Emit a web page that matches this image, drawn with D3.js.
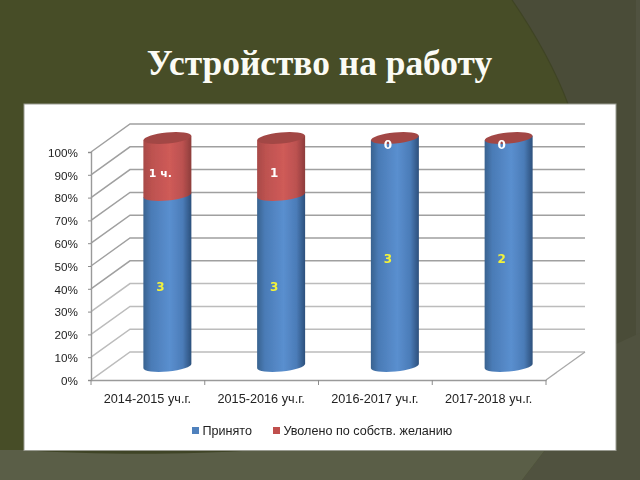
<!DOCTYPE html>
<html>
<head>
<meta charset="utf-8">
<script src="https://cdn.jsdelivr.net/npm/d3@7"></script>
<style>
  html, body { margin: 0; padding: 0; background: #474d27; }
  svg { display: block; }
</style>
</head>
<body>
<div id="chart"></div>
<script>
// --- Data ---
const categories = ['2014-2015 уч.г.', '2015-2016 уч.г.', '2016-2017 уч.г.', '2017-2018 уч.г.'];
const hired = [3, 3, 3, 2];
const quit = [1, 1, 0, 0];
const hiredLabels = ['3', '3', '3', '2'];
const quitLabels = ['1 ч.', '1', '0', '0'];
const seriesNames = ['Принято', 'Уволено по собств. желанию'];
const percentTicks = [0, 0.1, 0.2, 0.3, 0.4, 0.5, 0.6, 0.7, 0.8, 0.9, 1];

const width = 640;
const height = 480;

const svg = d3.select('#chart')
  .append('svg')
  .attr('width', width)
  .attr('height', height)
  .attr('viewBox', `0 0 ${width} ${height}`)
  .attr('role', 'img')
  .attr('aria-label', 'Устройство на работу');

const defs = svg.append('defs');

function cylinderGradient(id, stops) {
  const g = defs.append('linearGradient').attr('id', id);
  stops.forEach(s => g.append('stop').attr('offset', s[0]).attr('stop-color', s[1]));
}
cylinderGradient('blue-body', [['0%', '#38628f'], ['16%', '#4a7bb6'], ['55%', '#5a8fcf'], ['82%', '#4b7cb8'], ['100%', '#2c507c']]);
cylinderGradient('red-body', [['0%', '#a84a48'], ['18%', '#bd5250'], ['55%', '#cf5b58'], ['82%', '#bb5150'], ['100%', '#8d3d3b']]);
defs.append('filter').attr('id', 'soft')
  .append('feGaussianBlur').attr('stdDeviation', 0.45);

// --- Slide background ---
svg.append('rect').attr('width', width).attr('height', height).attr('fill', '#474d27');
// top right corner shape with its darker edge
svg.append('path').attr('fill', '#4a4c38')
  .attr('d', 'M512,0 C536,35 556,72 568,104 L640,104 L640,0 Z');
svg.append('path').attr('fill', 'none')
  .attr('stroke', '#3f4424').attr('stroke-width', 1.2)
  .attr('d', 'M512,0 C536,35 556,72 568,104');
svg.append('rect').attr('x', 616).attr('y', 104).attr('width', 24).attr('height', 240).attr('fill', '#4a4c38');
svg.append('rect').attr('x', 636).attr('y', 0).attr('width', 4).attr('height', 340).attr('fill', '#505240');
// lower right
svg.append('path').attr('fill', '#50523f')
  .attr('d', 'M616,344 L640,333 L640,480 L522,480 L545,450 L616,450 Z');
// bottom strip
svg.append('path').attr('fill', '#5a5e47')
  .attr('d', 'M0,450 L545,450 L522,480 L0,480 Z');
svg.append('path').attr('fill', '#3f4426')
  .attr('d', 'M24,450 C90,455 190,455 255,450 Z');

// --- White panel ---
svg.append('rect')
  .attr('x', 24).attr('y', 104).attr('width', 592).attr('height', 346.5)
  .attr('fill', '#ffffff').attr('stroke', '#9a9c92').attr('stroke-width', 1);

// --- Scales ---
const x = d3.scaleBand().domain(categories).range([91, 546]);
const y = d3.scaleLinear().domain([0, 1]).range([380, 152]);
const depthX = 39;
const depthY = -28;

const plot = svg.append('g').attr('filter', 'url(#soft)');

// Gridlines: side wall then back wall
percentTicks.forEach(t => {
  plot.append('path')
    .attr('d', `M${x.range()[0]},${y(t)} L${x.range()[0] + depthX},${y(t) + depthY} L${x.range()[1] + depthX},${y(t) + depthY}`)
    .attr('fill', 'none')
    .attr('stroke', t >= 0.4 ? '#a0a0a0' : '#bcbcbc')
    .attr('stroke-width', 1.5);
});

// Floor, front edge of the floor
plot.append('path')
  .attr('d', `M${x.range()[1]},${y(0)} L${x.range()[1] + depthX},${y(0) + depthY}`)
  .attr('fill', 'none').attr('stroke', '#a8a8a8').attr('stroke-width', 1.3);

// Axes
const axisFont = '"Liberation Sans", Arial, sans-serif';
const yAxis = d3.axisLeft(y).tickValues(percentTicks).tickFormat(d3.format('.0%')).tickSize(3).tickPadding(10);
const yAxisG = plot.append('g').attr('transform', `translate(${x.range()[0]},0)`).call(yAxis);
const xAxis = d3.axisBottom(x).tickSize(0).tickPadding(12);
const xAxisG = plot.append('g').attr('transform', `translate(0,${y(0)})`).call(xAxis);
const boundaries = [...categories.map(c => x(c)), x.range()[1]];
xAxisG.selectAll('.edge-tick').data(boundaries).enter().append('line')
  .attr('class', 'edge-tick')
  .attr('x1', d => d).attr('x2', d => d).attr('y1', 0).attr('y2', 5)
  .attr('stroke', '#8c8c8c').attr('stroke-width', 1);

[yAxisG, xAxisG].forEach(g => {
  g.selectAll('.domain').attr('stroke', '#9a9a9a').attr('stroke-width', 1.4);
  g.selectAll('.tick line').attr('stroke', '#8c8c8c');
  g.selectAll('text').attr('font-family', axisFont).attr('fill', '#222');
});
yAxisG.selectAll('text').attr('font-size', 11.7).attr('dy', '0.36em');
xAxisG.selectAll('text').attr('font-size', 12.7).attr('dy', '0.85em').attr('dx', -0.5);

// --- Cylinders ---
const barWidth = 48;
const capRy = 5.6;
const tilt = -5.5;

function barX(cat) {
  return x(cat) + x.bandwidth() / 2 + depthX / 2 - barWidth / 2;
}
function barY(v) {
  return y(v) + depthY / 2;
}
// slope of the tilted ellipse rim across the bar
const slope = Math.tan(tilt * Math.PI / 180) * barWidth / 2;

function segmentPath(x0, yBottom, yTop) {
  const rx = barWidth / 2;
  const x1 = x0 + barWidth;
  return `M${x0},${yTop - slope}`
    + ` L${x1},${yTop + slope}`
    + ` L${x1},${yBottom + slope}`
    + ` A${rx},${capRy} ${tilt} 0 1 ${x0},${yBottom - slope} Z`;
}

const rows = categories.map((cat, i) => {
  const total = hired[i] + quit[i];
  return { cat, i, share: hired[i] / total };
});

const bars = plot.selectAll('.bar').data(rows).enter().append('g').attr('class', 'bar');

bars.append('path')
  .attr('fill', 'url(#blue-body)')
  .attr('d', d => segmentPath(barX(d.cat), barY(0), barY(d.share)));

bars.filter(d => d.share < 1).append('path')
  .attr('fill', 'url(#red-body)')
  .attr('d', d => segmentPath(barX(d.cat), barY(d.share), barY(1)));

bars.append('ellipse')
  .attr('cx', d => barX(d.cat) + barWidth / 2)
  .attr('cy', barY(1))
  .attr('rx', barWidth / 2)
  .attr('ry', capRy)
  .attr('transform', d => `rotate(${tilt} ${barX(d.cat) + barWidth / 2} ${barY(1)})`)
  .attr('fill', '#a24644');

// --- Data labels ---
const labelFont = '"DejaVu Sans", "Open Sans", sans-serif';
bars.append('text')
  .attr('x', d => x(d.cat) + x.bandwidth() / 2 + depthX / 2 - 7)
  .attr('y', d => y(d.share / 2) + depthY / 2 + 10.5)
  .attr('text-anchor', 'middle')
  .attr('font-family', labelFont).attr('font-weight', 700).attr('font-size', 12)
  .attr('fill', '#f2f23a')
  .text(d => hiredLabels[d.i]);

bars.append('text')
  .attr('x', d => x(d.cat) + x.bandwidth() / 2 + depthX / 2 - 7)
  .attr('y', d => y((1 + d.share) / 2) + depthY / 2 + 10.5)
  .attr('text-anchor', 'middle')
  .attr('font-family', labelFont).attr('font-weight', 700).attr('font-size', d => d.i === 0 ? 11 : 12)
  .attr('fill', '#ffffff')
  .text(d => quitLabels[d.i]);

// --- Legend ---
const legendColors = ['#4f81bd', '#c0504d'];
const legendX = [192, 273];
const legend = plot.selectAll('.legend').data(seriesNames).enter().append('g')
  .attr('class', 'legend')
  .attr('transform', (d, i) => `translate(${legendX[i]},427)`);
legend.append('rect').attr('width', 7).attr('height', 7).attr('fill', (d, i) => legendColors[i]);
legend.append('text')
  .attr('x', 10.5).attr('y', 7.5)
  .attr('font-family', axisFont)
  .attr('font-size', 12.6).attr('fill', '#222')
  .text(d => d);

// --- Title ---
svg.append('text')
  .attr('x', 319.5).attr('y', 75)
  .attr('text-anchor', 'middle')
  .attr('font-family', '"Liberation Serif", serif')
  .attr('font-weight', 700).attr('font-size', 35.4)
  .attr('fill', '#fbfbf5')
  .text('Устройство на работу');
</script>
</body>
</html>
